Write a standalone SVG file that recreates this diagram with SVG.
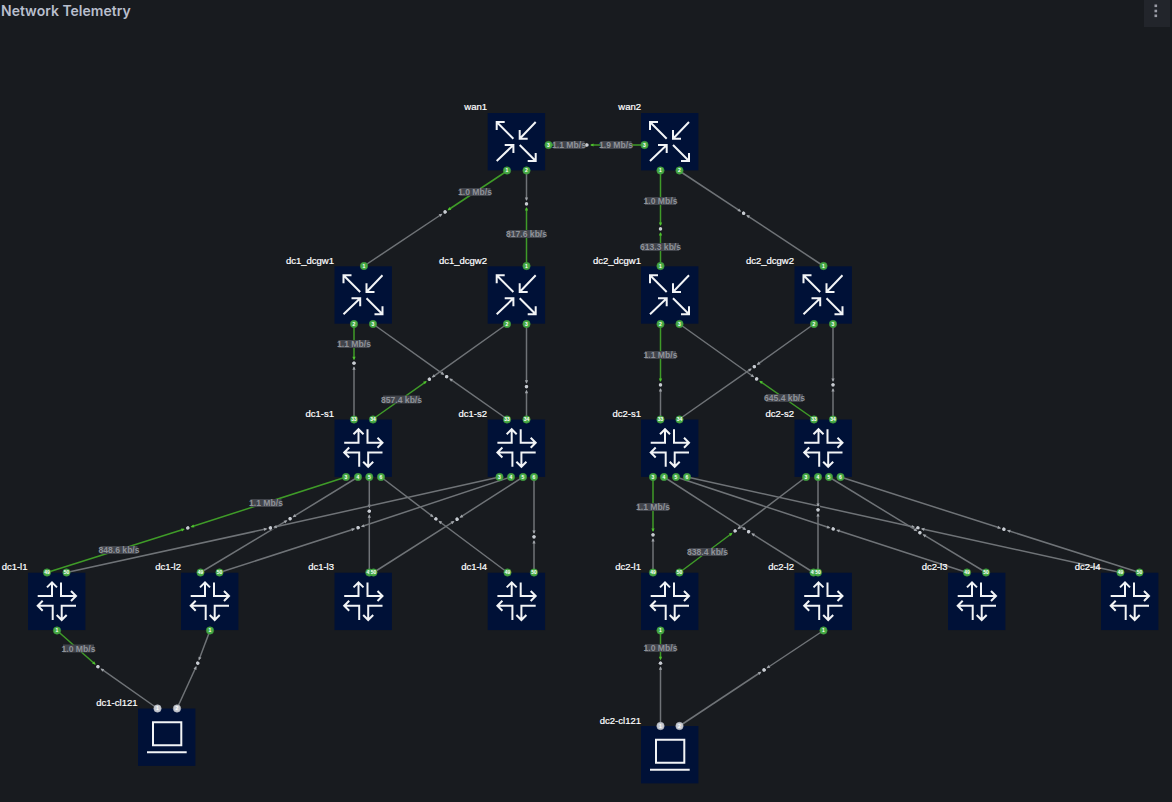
<svg xmlns="http://www.w3.org/2000/svg" xmlns:xlink="http://www.w3.org/1999/xlink" width="1172" height="802" viewBox="0 0 1172 802">
<style>
text{font-family:"Liberation Sans",Arial,sans-serif}
.title{font-family:Inter,"Liberation Sans",sans-serif;font-size:14px;font-weight:600;fill:#b9bfcd}
.box{fill:#001137}
.ic{fill:none;stroke:#f2f4f6;stroke-width:2}
.n{font-size:9.5px;fill:#fff;text-anchor:end;font-weight:400;stroke:#fff;stroke-width:.2}
.p{fill:#47ab45;stroke:#3b8f3a;stroke-width:.6;r:3.7px}
.c{fill:#c6cad1;stroke:#aeb2ba;stroke-width:.6;r:3.7px}
.pt{font-size:5px;fill:#fff;text-anchor:middle;font-weight:700}
.g{stroke:#3f9b28;stroke-width:1.5;fill:none;marker-end:url(#mg)}
.k{stroke:#6f7377;stroke-width:1.5;fill:none;marker-end:url(#mk)}
.lb{fill:#41444b}
.lt{font-size:8.6px;fill:#8f9299;text-anchor:middle;font-weight:700}
</style>
<defs>
<marker id="mg" markerUnits="userSpaceOnUse" markerWidth="16" markerHeight="8" viewBox="-8 -4 16 8" refX="0" refY="0" orient="auto">
<rect x="-4" y="-2" width="4" height="4" fill="#181b1f"/><path d="M-6.500-1.600L-3 0L-6.500 1.600Z" fill="#4fc22f"/><circle r="1.7" fill="#c8ccd2"/>
</marker>
<marker id="mk" markerUnits="userSpaceOnUse" markerWidth="16" markerHeight="8" viewBox="-8 -4 16 8" refX="0" refY="0" orient="auto">
<rect x="-4" y="-2" width="4" height="4" fill="#181b1f"/><path d="M-6.500-1.600L-3 0L-6.500 1.600Z" fill="#a0a4a9"/><circle r="1.7" fill="#c8ccd2"/>
</marker>
<g id="sw">
<rect class="box" width="57.4" height="57.4"/>
<path class="ic" d="M25.700 25.700L9 9M9 17V9H17M48 9L32 25.700M32 17V25.700H40M9 48L25.700 32M17 32H25.700V40M32 32L48 48M48 40V48H40"/>
</g>
<g id="rt">
<rect class="box" width="57.4" height="57.4"/>
<path class="ic" d="M9.700 23.300H24V9.700M19 14.700L24 9.700L29 14.700M33 9.700V23.300H48M43 18.300L48 23.300L43 28.300M24.700 47.300V33H9.700M14.700 28L9.700 33L14.700 38M48 33H33.700V47.300M28.700 42.300L33.700 47.300L38.700 42.300"/>
</g>
<g id="lp">
<rect class="box" width="57.4" height="57.4"/>
<path class="ic" d="M15 13.700H43.300V36.700H15ZM9 43.700H48.700"/>
</g>
</defs>
<rect width="1172" height="802" fill="#181b1f"/>
<text class="title" x="1" y="16">Network Telemetry</text>
<g id="menu"><rect x="1144" y="0" width="26" height="27" fill="#22252b"/><rect x="1154.500" y="4.500" width="2.600" height="2.600" fill="#9a9ca6"/><rect x="1154.500" y="9.700" width="2.600" height="2.600" fill="#9a9ca6"/><rect x="1154.500" y="14.500" width="2.600" height="2.600" fill="#9a9ca6"/></g>

<g id="connectors">
<path class="g" d="M548.500 145L587 145"/><path class="g" d="M644.500 145L587 145"/>
<path class="g" d="M507 171L445 212"/><path class="k" d="M364 266L445 212"/>
<path class="k" d="M526.500 171L526.500 204"/><path class="g" d="M526.500 266L526.500 204"/>
<path class="g" d="M660.500 171L660.500 229"/><path class="g" d="M660.500 266L660.500 229"/>
<path class="k" d="M679.500 171L743.700 213.300"/><path class="k" d="M823.500 266L743.700 213.300"/>
<path class="g" d="M354 324L354 363.300"/><path class="k" d="M354 419L354 363.300"/>
<path class="k" d="M373 324L446.700 376.700"/><path class="k" d="M507 419L446.700 376.700"/>
<path class="k" d="M507 324L429.300 379.300"/><path class="g" d="M373 419L429.300 379.300"/>
<path class="k" d="M526.500 324L526.500 386.700"/><path class="k" d="M526.500 419L526.500 386.700"/>
<path class="g" d="M660.500 324L660.500 385"/><path class="k" d="M660.500 419L660.500 385"/>
<path class="k" d="M679.500 324L756.700 379"/><path class="g" d="M814 419L756.700 379"/>
<path class="k" d="M814 324L754.300 366.700"/><path class="k" d="M679.500 419L754.300 366.700"/>
<path class="k" d="M833 324L833 385"/><path class="k" d="M833 419L833 385"/>
<path class="g" d="M346 477L187.700 528"/><path class="g" d="M47 572.500L187.700 528"/>
<path class="k" d="M358 477L290 518.700"/><path class="k" d="M200.500 572.500L290 518.700"/>
<path class="k" d="M369.300 477L369.300 511.300"/><path class="k" d="M369.300 572.500L369.300 511.300"/>
<path class="k" d="M381 477L436 519"/><path class="k" d="M507.500 572.500L436 519"/>
<path class="k" d="M499.500 477L270.300 528"/><path class="k" d="M66.500 572.500L270.300 528"/>
<path class="k" d="M511 477L358 527.700"/><path class="k" d="M219.500 572.500L358 527.700"/>
<path class="k" d="M523 477L457 519.300"/><path class="k" d="M373.500 572.500L457 519.300"/>
<path class="k" d="M534 477L534 537"/><path class="k" d="M534 572.500L534 537"/>
<path class="g" d="M653 477L653 535"/><path class="k" d="M653 572.500L653 535"/>
<path class="k" d="M664 477L748.700 531.700"/><path class="k" d="M813.500 572.500L748.700 531.700"/>
<path class="k" d="M676 477L833.300 529"/><path class="k" d="M967 572.500L833.300 529"/>
<path class="k" d="M687 477L918 528"/><path class="k" d="M1120.500 572.500L918 528"/>
<path class="k" d="M806 477L735 531"/><path class="g" d="M679.500 572.500L735 531"/>
<path class="k" d="M818 477L818 510"/><path class="k" d="M818 572.500L818 510"/>
<path class="k" d="M829 477L920 532.700"/><path class="k" d="M986 572.500L920 532.700"/>
<path class="k" d="M840.500 477L1004 529.300"/><path class="k" d="M1139.500 572.500L1004 529.300"/>
<path class="g" d="M57 630.500L98 666.700"/><path class="k" d="M157.500 708.500L98 666.700"/>
<path class="k" d="M210 630.500L197.700 663.300"/><path class="k" d="M177 708.500L197.700 663.300"/>
<path class="g" d="M660.500 630.500L660.500 663.300"/><path class="k" d="M660.500 726L660.500 663.300"/>
<path class="k" d="M823.500 630.500L764 670"/><path class="k" d="M679.500 726L764 670"/>
</g>

<g id="edge-labels">
<rect class="lb" x="553.500" y="141" width="31" height="8"/><text class="lt" x="569" y="148">1.1 Mb/s</text>
<rect class="lb" x="600.500" y="141" width="31" height="8"/><text class="lt" x="616" y="148">1.9 Mb/s</text>
<rect class="lb" x="459.500" y="188" width="31" height="8"/><text class="lt" x="475" y="195">1.0 Mb/s</text>
<rect class="lb" x="508" y="230" width="37" height="8"/><text class="lt" x="526.500" y="237">817.6 kb/s</text>
<rect class="lb" x="645" y="197" width="31" height="8"/><text class="lt" x="660.500" y="204">1.0 Mb/s</text>
<rect class="lb" x="642" y="243" width="37" height="8"/><text class="lt" x="660.500" y="250">613.3 kb/s</text>
<rect class="lb" x="338.500" y="340" width="31" height="8"/><text class="lt" x="354" y="347">1.1 Mb/s</text>
<rect class="lb" x="383" y="395.500" width="37" height="8"/><text class="lt" x="401.500" y="402.500">857.4 kb/s</text>
<rect class="lb" x="645" y="351" width="31" height="8"/><text class="lt" x="660.500" y="358">1.1 Mb/s</text>
<rect class="lb" x="766" y="394" width="37" height="8"/><text class="lt" x="784.500" y="401">645.4 kb/s</text>
<rect class="lb" x="250.500" y="499" width="31" height="8"/><text class="lt" x="266" y="506">1.1 Mb/s</text>
<rect class="lb" x="100.500" y="546" width="37" height="8"/><text class="lt" x="119" y="553">848.6 kb/s</text>
<rect class="lb" x="637.500" y="503" width="31" height="8"/><text class="lt" x="653" y="510">1.1 Mb/s</text>
<rect class="lb" x="689" y="548" width="37" height="8"/><text class="lt" x="707.500" y="555">838.4 kb/s</text>
<rect class="lb" x="63" y="644.500" width="31" height="8"/><text class="lt" x="78.500" y="651.500">1.0 Mb/s</text>
<rect class="lb" x="645" y="644" width="31" height="8"/><text class="lt" x="660.500" y="651">1.0 Mb/s</text>
</g>

<g id="wan1"><use href="#sw" x="487.700" y="113"/><text class="n" x="487" y="110">wan1</text>
<circle class="p" cx="548.500" cy="145" r="3.3"/><text class="pt" x="548.500" y="146.700">3</text>
<circle class="p" cx="507" cy="170.500" r="3.3"/><text class="pt" x="507" y="172.200">1</text>
<circle class="p" cx="526.500" cy="170.500" r="3.3"/><text class="pt" x="526.500" y="172.200">2</text></g>
<g id="wan2"><use href="#sw" x="641" y="113"/><text class="n" x="641" y="110">wan2</text>
<circle class="p" cx="644.500" cy="145" r="3.3"/><text class="pt" x="644.500" y="146.700">3</text>
<circle class="p" cx="660.500" cy="170.500" r="3.3"/><text class="pt" x="660.500" y="172.200">1</text>
<circle class="p" cx="679.500" cy="170.500" r="3.3"/><text class="pt" x="679.500" y="172.200">2</text></g>

<g id="dc1_dcgw1"><use href="#sw" x="334.500" y="266.300"/><text class="n" x="334" y="264">dc1_dcgw1</text>
<circle class="p" cx="364" cy="266" r="3.3"/><text class="pt" x="364" y="267.700">1</text>
<circle class="p" cx="354" cy="324" r="3.3"/><text class="pt" x="354" y="325.700">2</text>
<circle class="p" cx="373" cy="324" r="3.3"/><text class="pt" x="373" y="325.700">3</text></g>
<g id="dc1_dcgw2"><use href="#sw" x="487.700" y="266.300"/><text class="n" x="487" y="264">dc1_dcgw2</text>
<circle class="p" cx="526.500" cy="266" r="3.3"/><text class="pt" x="526.500" y="267.700">1</text>
<circle class="p" cx="507" cy="324" r="3.3"/><text class="pt" x="507" y="325.700">2</text>
<circle class="p" cx="526.500" cy="324" r="3.3"/><text class="pt" x="526.500" y="325.700">3</text></g>
<g id="dc2_dcgw1"><use href="#sw" x="641" y="266.300"/><text class="n" x="641" y="264">dc2_dcgw1</text>
<circle class="p" cx="660.500" cy="266" r="3.3"/><text class="pt" x="660.500" y="267.700">1</text>
<circle class="p" cx="660.500" cy="324" r="3.3"/><text class="pt" x="660.500" y="325.700">2</text>
<circle class="p" cx="679.500" cy="324" r="3.3"/><text class="pt" x="679.500" y="325.700">3</text></g>
<g id="dc2_dcgw2"><use href="#sw" x="794.500" y="266.300"/><text class="n" x="794" y="264">dc2_dcgw2</text>
<circle class="p" cx="823.500" cy="266" r="3.3"/><text class="pt" x="823.500" y="267.700">1</text>
<circle class="p" cx="814" cy="324" r="3.3"/><text class="pt" x="814" y="325.700">2</text>
<circle class="p" cx="833" cy="324" r="3.3"/><text class="pt" x="833" y="325.700">3</text></g>

<g id="dc1-s1"><use href="#rt" x="334.500" y="419.500"/><text class="n" x="334" y="417">dc1-s1</text>
<circle class="p" cx="354" cy="419.500" r="3.3"/><text class="pt" x="354" y="421.200">33</text>
<circle class="p" cx="373" cy="419.500" r="3.3"/><text class="pt" x="373" y="421.200">34</text>
<circle class="p" cx="346" cy="477" r="3.3"/><text class="pt" x="346" y="478.700">3</text>
<circle class="p" cx="358" cy="477" r="3.3"/><text class="pt" x="358" y="478.700">4</text>
<circle class="p" cx="369.300" cy="477" r="3.3"/><text class="pt" x="369.300" y="478.700">5</text>
<circle class="p" cx="381" cy="477" r="3.3"/><text class="pt" x="381" y="478.700">6</text></g>
<g id="dc1-s2"><use href="#rt" x="487.700" y="419.500"/><text class="n" x="487" y="417">dc1-s2</text>
<circle class="p" cx="507" cy="419.500" r="3.3"/><text class="pt" x="507" y="421.200">33</text>
<circle class="p" cx="526.500" cy="419.500" r="3.3"/><text class="pt" x="526.500" y="421.200">34</text>
<circle class="p" cx="499.500" cy="477" r="3.3"/><text class="pt" x="499.500" y="478.700">3</text>
<circle class="p" cx="511" cy="477" r="3.3"/><text class="pt" x="511" y="478.700">4</text>
<circle class="p" cx="523" cy="477" r="3.3"/><text class="pt" x="523" y="478.700">5</text>
<circle class="p" cx="534" cy="477" r="3.3"/><text class="pt" x="534" y="478.700">6</text></g>
<g id="dc2-s1"><use href="#rt" x="641" y="419.500"/><text class="n" x="641" y="417">dc2-s1</text>
<circle class="p" cx="660.500" cy="419.500" r="3.3"/><text class="pt" x="660.500" y="421.200">33</text>
<circle class="p" cx="679.500" cy="419.500" r="3.3"/><text class="pt" x="679.500" y="421.200">34</text>
<circle class="p" cx="653" cy="477" r="3.3"/><text class="pt" x="653" y="478.700">3</text>
<circle class="p" cx="664" cy="477" r="3.3"/><text class="pt" x="664" y="478.700">4</text>
<circle class="p" cx="676" cy="477" r="3.3"/><text class="pt" x="676" y="478.700">5</text>
<circle class="p" cx="687" cy="477" r="3.3"/><text class="pt" x="687" y="478.700">6</text></g>
<g id="dc2-s2"><use href="#rt" x="794.500" y="419.500"/><text class="n" x="794" y="417">dc2-s2</text>
<circle class="p" cx="814" cy="419.500" r="3.3"/><text class="pt" x="814" y="421.200">33</text>
<circle class="p" cx="833" cy="419.500" r="3.3"/><text class="pt" x="833" y="421.200">34</text>
<circle class="p" cx="806" cy="477" r="3.3"/><text class="pt" x="806" y="478.700">3</text>
<circle class="p" cx="818" cy="477" r="3.3"/><text class="pt" x="818" y="478.700">4</text>
<circle class="p" cx="829" cy="477" r="3.3"/><text class="pt" x="829" y="478.700">5</text>
<circle class="p" cx="840.500" cy="477" r="3.3"/><text class="pt" x="840.500" y="478.700">6</text></g>

<g id="dc1-l1"><use href="#rt" x="28" y="572.700"/><text class="n" x="27.500" y="570">dc1-l1</text>
<circle class="p" cx="47" cy="572.500" r="3.3"/><text class="pt" x="47" y="574.200">49</text>
<circle class="p" cx="66.500" cy="572.500" r="3.3"/><text class="pt" x="66.500" y="574.200">50</text>
<circle class="p" cx="57" cy="630.500" r="3.3"/><text class="pt" x="57" y="632.200">1</text></g>
<g id="dc1-l2"><use href="#rt" x="181" y="572.700"/><text class="n" x="181" y="570">dc1-l2</text>
<circle class="p" cx="200.500" cy="572.500" r="3.3"/><text class="pt" x="200.500" y="574.200">49</text>
<circle class="p" cx="219.500" cy="572.500" r="3.3"/><text class="pt" x="219.500" y="574.200">50</text>
<circle class="p" cx="210" cy="630.500" r="3.3"/><text class="pt" x="210" y="632.200">1</text></g>
<g id="dc1-l3"><use href="#rt" x="334.500" y="572.700"/><text class="n" x="334" y="570">dc1-l3</text>
<circle class="p" cx="369.300" cy="572.500" r="3.3"/><text class="pt" x="369.300" y="574.200">49</text>
<circle class="p" cx="373.500" cy="572.500" r="3.3"/><text class="pt" x="373.500" y="574.200">50</text></g>
<g id="dc1-l4"><use href="#rt" x="487.700" y="572.700"/><text class="n" x="487" y="570">dc1-l4</text>
<circle class="p" cx="507.500" cy="572.500" r="3.3"/><text class="pt" x="507.500" y="574.200">49</text>
<circle class="p" cx="534" cy="572.500" r="3.3"/><text class="pt" x="534" y="574.200">50</text></g>
<g id="dc2-l1"><use href="#rt" x="641" y="572.700"/><text class="n" x="641" y="570">dc2-l1</text>
<circle class="p" cx="653" cy="572.500" r="3.3"/><text class="pt" x="653" y="574.200">49</text>
<circle class="p" cx="679.500" cy="572.500" r="3.3"/><text class="pt" x="679.500" y="574.200">50</text>
<circle class="p" cx="660.500" cy="630.500" r="3.3"/><text class="pt" x="660.500" y="632.200">1</text></g>
<g id="dc2-l2"><use href="#rt" x="794.500" y="572.700"/><text class="n" x="794" y="570">dc2-l2</text>
<circle class="p" cx="813.500" cy="572.500" r="3.3"/><text class="pt" x="813.500" y="574.200">49</text>
<circle class="p" cx="818" cy="572.500" r="3.3"/><text class="pt" x="818" y="574.200">50</text>
<circle class="p" cx="823.500" cy="630.500" r="3.3"/><text class="pt" x="823.500" y="632.200">1</text></g>
<g id="dc2-l3"><use href="#rt" x="948" y="572.700"/><text class="n" x="947.500" y="570">dc2-l3</text>
<circle class="p" cx="967" cy="572.500" r="3.3"/><text class="pt" x="967" y="574.200">49</text>
<circle class="p" cx="986" cy="572.500" r="3.3"/><text class="pt" x="986" y="574.200">50</text></g>
<g id="dc2-l4"><use href="#rt" x="1101" y="572.700"/><text class="n" x="1100.500" y="570">dc2-l4</text>
<circle class="p" cx="1120.500" cy="572.500" r="3.3"/><text class="pt" x="1120.500" y="574.200">49</text>
<circle class="p" cx="1139.500" cy="572.500" r="3.3"/><text class="pt" x="1139.500" y="574.200">50</text></g>

<g id="dc1-cl121"><use href="#lp" x="138" y="708.500"/><text class="n" x="137.500" y="706">dc1-cl121</text>
<circle class="c" cx="157.500" cy="708.500" r="3.3"/><text class="pt" x="157.500" y="710.200">1</text>
<circle class="c" cx="177" cy="708.500" r="3.3"/><text class="pt" x="177" y="710.200">2</text></g>
<g id="dc2-cl121"><use href="#lp" x="641" y="726"/><text class="n" x="641" y="724">dc2-cl121</text>
<circle class="c" cx="660.500" cy="726" r="3.3"/><text class="pt" x="660.500" y="727.700">1</text>
<circle class="c" cx="679.500" cy="726" r="3.3"/><text class="pt" x="679.500" y="727.700">2</text></g>
</svg>
